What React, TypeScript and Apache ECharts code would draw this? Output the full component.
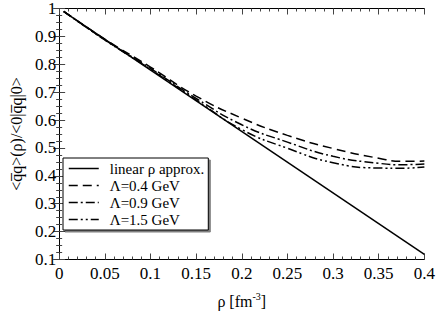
import React, { useEffect, useRef } from "react";
import * as echarts from "echarts";

const rhoCurve = [0.005, 0.05, 0.1, 0.15, 0.2, 0.25, 0.3, 0.35, 0.375, 0.4];
const lambda04 = [0.99, 0.89, 0.79, 0.686, 0.607, 0.545, 0.498, 0.463, 0.452, 0.453];
const lambda09 = [0.99, 0.888, 0.785, 0.678, 0.583, 0.521, 0.47, 0.445, 0.44, 0.442];
const lambda15 = [0.99, 0.887, 0.782, 0.672, 0.566, 0.499, 0.447, 0.428, 0.427, 0.432];
const rhoLinear = [0.005, 0.4];
const linearVals = [0.989, 0.118];

const seriesNames = ["linear ρ approx.", "Λ=0.4 GeV", "Λ=0.9 GeV", "Λ=1.5 GeV"];

const FONT = "'Liberation Serif', 'Times New Roman', Times, 'DejaVu Serif', serif";

export default function App() {
  const ref = useRef<HTMLDivElement>(null);
  useEffect(() => {
    if (!ref.current) return;
    const chart = echarts.init(ref.current, undefined, { renderer: "svg" });
    const pair = (xs: number[], ys: number[]) => xs.map((x, i) => [x, ys[i]]);
    const axisCommon = {
      type: "value" as const,
      axisLine: { show: true, lineStyle: { color: "#000", width: 1 } },
      axisTick: { show: true, inside: true, length: 6, lineStyle: { color: "#444" } },
      minorTick: { show: true, length: 3, lineStyle: { color: "#444" } },
      splitLine: { show: false },
    };
    const xCommon = { ...axisCommon, min: 0, max: 0.4, interval: 0.05, minorTick: { ...axisCommon.minorTick, splitNumber: 5 } };
    const yCommon = { ...axisCommon, min: 0.1, max: 1, interval: 0.1, minorTick: { ...axisCommon.minorTick, splitNumber: 4 } };
    const labelStyle = { color: "#000", fontFamily: FONT, fontSize: 17 };
    const lineSeries = (name: string, data: number[][], type: any, width: number) => ({
      name,
      type: "line",
      data,
      smooth: true,
      symbol: "none",
      showSymbol: false,
      xAxisIndex: 0,
      yAxisIndex: 0,
      lineStyle: { color: "#000", width, type },
      itemStyle: { color: "#000" },
    });
    chart.setOption({
      animation: false,
      backgroundColor: "#fff",
      textStyle: { fontFamily: FONT },
      grid: { left: 42, right: 11, top: 5, bottom: 44, containLabel: false },
      xAxis: [
        {
          ...xCommon,
          position: "bottom",
          axisLabel: { ...labelStyle, margin: 5 },
          name: "{a|ρ [fm}{s|-3}{a|]}",
          nameLocation: "middle",
          nameGap: 32,
          nameTextStyle: {
            rich: {
              a: { fontFamily: FONT, fontSize: 16, color: "#000" },
              s: { fontFamily: FONT, fontSize: 10, color: "#000", padding: [0, 0, 9, 0] },
            },
          },
        },
        { ...xCommon, position: "top", axisLabel: { show: false } },
      ],
      yAxis: [
        {
          ...yCommon,
          position: "left",
          axisLabel: { ...labelStyle, margin: 3 },
          name: "<q\u0305q>(ρ)/<0|q\u0305q|0>",
          nameLocation: "middle",
          nameRotate: 90,
          nameGap: 30,
          nameTextStyle: { fontFamily: FONT, fontSize: 16, color: "#000" },
        },
        { ...yCommon, position: "right", axisLabel: { show: false } },
      ],
      legend: {
        left: 63,
        top: 158,
        orient: "vertical",
        itemWidth: 30,
        itemHeight: 14,
        itemGap: 2,
        padding: [3, 4, 3, 5],
        backgroundColor: "#fff",
        borderColor: "#000",
        borderWidth: 1,
        shadowColor: "rgba(0,0,0,0.5)",
        shadowOffsetX: 2,
        shadowOffsetY: 2,
        shadowBlur: 0,
        itemStyle: { opacity: 0 },
        lineStyle: { width: 1.5 },
        textStyle: { fontFamily: FONT, fontSize: 15, color: "#000", padding: [0, 0, 0, 6] },
        data: seriesNames,
      },
      series: [
        lineSeries(seriesNames[0], pair(rhoLinear, linearVals), "solid", 1.5),
        lineSeries(seriesNames[1], pair(rhoCurve, lambda04), [9, 5], 1.5),
        lineSeries(seriesNames[2], pair(rhoCurve, lambda09), [9, 3, 2, 3], 1.5),
        lineSeries(seriesNames[3], pair(rhoCurve, lambda15), [9, 3, 2, 3, 2, 3], 1.5),
      ],
    });
    return () => chart.dispose();
  }, []);
  return <div ref={ref} style={{ width: 438, height: 314, position: "absolute", left: 0, top: 0 }} />;
}
